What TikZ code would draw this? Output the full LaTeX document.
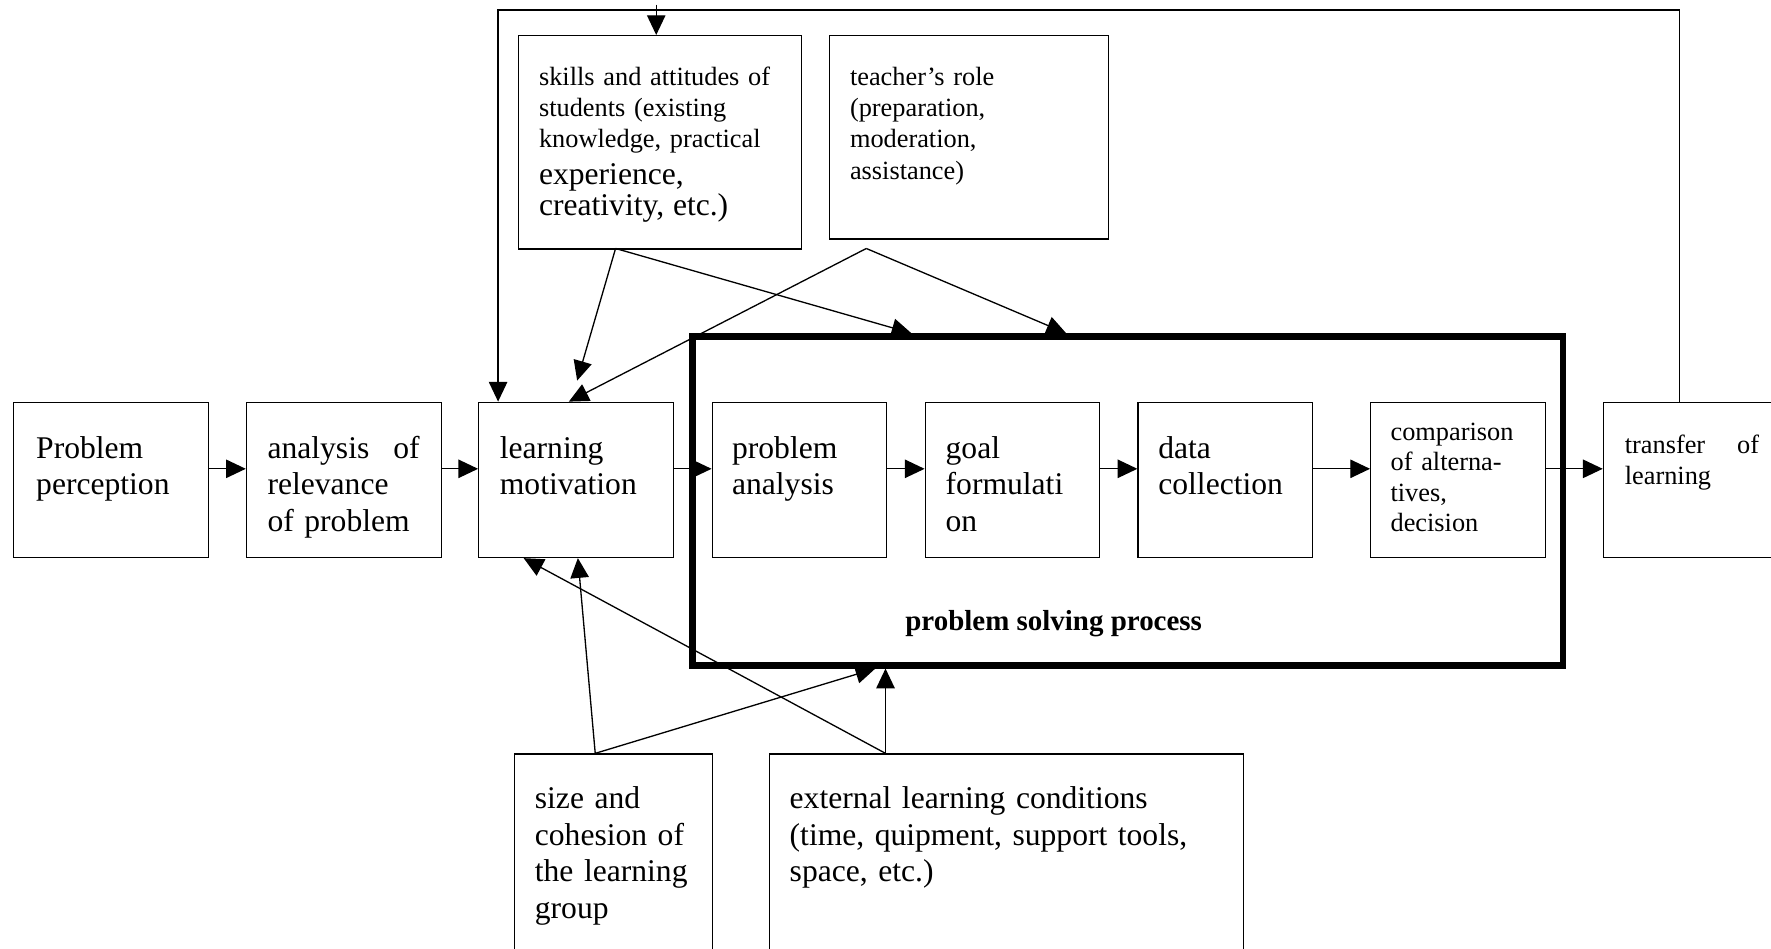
\documentclass[tikz,border=0pt]{standalone}
\usepackage{fontspec}
\setmainfont{Liberation Serif}
\usetikzlibrary{arrows.meta}
\newlength\pxl
\setlength\pxl{0.429pt}

\begin{document}
\begin{tikzpicture}[
  x=\pxl, y=-\pxl, line width=.5pt,
  >={Triangle[length=7.5pt,width=7pt]},
  box/.style={draw,anchor=north west,inner sep=0pt},
  rowbox/.style={box,minimum height=137.4*\pxl},
  wide/.style={rowbox,minimum width=172.5*\pxl},
  narrow/.style={rowbox,minimum width=154.5*\pxl},
  txt/.style={anchor=base west,align=left,inner sep=0pt,text width=#1,
    font=\fontsize{12}{14}\selectfont},
  txt/.default=66pt,
  stxt/.style={txt=#1,font=\fontsize{10}{11.8}\selectfont},
  stxt/.default=66pt
]
\useasboundingbox (0,0) rectangle (1568,840);

% main row
\node[wide] (pp) at (11.5,355.6) {};
\node[wide] (ar) at (217.6,355.6) {};
\node[wide] (lm) at (423.3,355.6) {};
\node[narrow] (pa) at (630,355.6) {};
\node[narrow] (gf) at (818.6,355.6) {};
\node[narrow] (dc) at (1007,355.6) {};
\node[narrow] (cp) at (1213,355.6) {};
\node[rowbox,minimum width=175*\pxl] (tl) at (1419,355.6) {};
\node[txt] (pp-t) at ([shift={(20,50)}]pp.north west) {Problem\\perception};
\node[txt=57.8pt] (ar-t) at ([shift={(18.7,50)}]ar.north west) {analysis\hfill of\\relevance\\of problem};
\node[txt] (lm-t) at ([shift={(18.7,50)}]lm.north west) {learning\\motivation};
\node[txt] (pa-t) at ([shift={(17.6,50)}]pa.north west) {problem\\analysis};
\node[txt] (gf-t) at ([shift={(18.1,50)}]gf.north west) {goal\\formulati\\on};
\node[txt] (dc-t) at ([shift={(18,50)}]dc.north west) {data\\collection};
\node[stxt=58pt,font=\fontsize{10}{11.6}\selectfont] (cp-t) at ([shift={(17.6,34)}]cp.north west) {comparison\\of alterna-\\tives,\\decision};
\node[stxt=51pt] (tl-t) at ([shift={(19,45.7)}]tl.north west) {transfer\hfill of\\learning};

% influences from above
\node[box,minimum width=250.5*\pxl,minimum height=189*\pxl] (sk) at (458.5,31) {};
\node[box,minimum width=247*\pxl,minimum height=180*\pxl] (tr) at (734,31) {};
\node[stxt=95pt] (sk-t) at ([shift={(18.2,45)}]sk.north west) {skills and attitudes of\\students (existing\\knowledge, practical\\\fontsize{12}{13.8}\selectfont experience,\\creativity, etc.)};
\node[stxt=90pt] (tr-t) at ([shift={(18,45)}]tr.north west) {teacher’s role\\(preparation,\\moderation,\\assistance)};

% influences from below
\node[box,minimum width=175*\pxl,minimum height=203*\pxl] (sz) at (455,667) {};
\node[box,minimum width=420*\pxl,minimum height=203*\pxl] (ex) at (680.6,667) {};
\node[txt] (sz-t) at ([shift={(18,48.6)}]sz.north west) {size and\\cohesion of\\the learning\\group};
\node[txt=170pt] (ex-t) at ([shift={(18,48.6)}]ex.north west) {external learning conditions\\(time, quipment, support tools,\\space, etc.)};

% problem solving frame
\node[draw,line width=2.5pt,inner sep=0pt,minimum width=771*\pxl,minimum height=291*\pxl] (ps) at (998.5,443.5) {};
\node[anchor=base west,inner sep=0pt,font=\fontsize{11}{13}\selectfont\bfseries] (ps-t) at (801,557.8) {problem solving process};

\coordinate (skB) at (545,220);
\coordinate (trB) at (767,220);
\coordinate (szT) at (527,667);
\coordinate (exT) at (784,667);
\coordinate (lmS) at (511,337);
\coordinate (fbR) at (1487,9);
\coordinate (fbL) at (441,9);
\coordinate (fbA) at (581,4);
\coordinate (psT1) at (807,295);
\coordinate (psT2) at (944,295);
\coordinate (psB1) at (775,592);

\draw[->] ([yshift=9.8*\pxl]pp.east) -- ([yshift=9.8*\pxl]ar.west);
\draw[->] ([yshift=9.8*\pxl]ar.east) -- ([yshift=9.8*\pxl]lm.west);
\draw[->] ([yshift=9.8*\pxl]lm.east) -- ([yshift=9.8*\pxl]pa.west);
\draw[->] ([yshift=9.8*\pxl]pa.east) -- ([yshift=9.8*\pxl]gf.west);
\draw[->] ([yshift=9.8*\pxl]gf.east) -- ([yshift=9.8*\pxl]dc.west);
\draw[->] ([yshift=9.8*\pxl]dc.east) -- ([yshift=9.8*\pxl]cp.west);
\draw[->] ([yshift=9.8*\pxl]cp.east) -- ([yshift=9.8*\pxl]tl.west);

% feedback
\draw[->] (tl.north -| fbR) -- (fbR) -- (fbL) -- (fbL |- lm.north);
\draw[->] (fbA) -- (fbA |- sk.north);

\draw[->] (skB) -- (lmS);
\draw[->] (skB) -- (ps.north -| psT1);
\draw[->] (trB) -- ([xshift=-6.5*\pxl]lm.north);
\draw[->] (trB) -- (ps.north -| psT2);
\draw[->] (szT) -- ([xshift=1.5*\pxl]lm.south);
\draw[->] (szT) -- (ps.south -| psB1);
\draw[->] (exT) -- ([xshift=-46.5*\pxl]lm.south);
\draw[->] (exT) -- (ps.south -| exT);
\end{tikzpicture}
\end{document}
